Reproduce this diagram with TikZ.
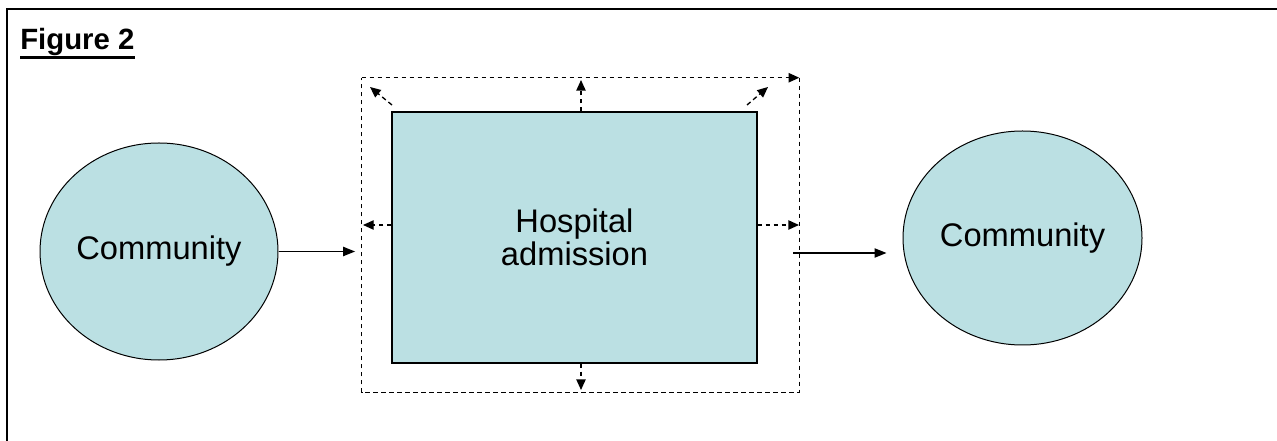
\documentclass[tikz,border=0pt]{standalone}
\usepackage{fontspec}
\setmainfont{Liberation Sans}
\usetikzlibrary{arrows.meta,shapes.geometric}
\definecolor{wardblue}{RGB}{187,224,227}
\tikzset{
  blob/.style={ellipse,draw,line width=0.75pt,fill=wardblue,inner sep=0pt,font=\fontsize{24.5}{24.75}\selectfont},
  ward/.style={rectangle,draw,line width=1pt,fill=wardblue,inner sep=0pt,align=center,font=\fontsize{24.5}{24.75}\selectfont},
  flow/.style={line width=0.9pt,-{Triangle[length=9pt,width=7pt]}},
  spill/.style={line width=1pt,dash pattern=on 3.5pt off 2.5pt,-{Triangle[length=8pt,width=7pt]}},
  rim/.style={line width=1pt,dash pattern=on 3.5pt off 2.5pt}
}
\begin{document}
\begin{tikzpicture}[x=0.75pt,y=0.75pt,yscale=-1,xscale=1]
\useasboundingbox (0,0) rectangle (1277,441);
%Frame
\draw [line width=2.2pt] (7,9) rectangle (1300,470) ;

% Text Node
\node [anchor=base west,inner sep=0pt,font=\fontsize{22}{26}\selectfont\bfseries] (fig) at (20,50) {Figure 2};
\draw [line width=2pt] ([yshift=5.5pt]fig.base west) -- ([yshift=5.5pt]fig.base east) ;

%Shape: Ellipse
\node [blob,minimum width=178.5pt,minimum height=162.75pt] (comm1) at (159,251.5) {Community};
%Shape: Ellipse
\node [blob,minimum width=179.25pt,minimum height=160.5pt] (comm2) at (1022.5,238) {Community};
%Shape: Rectangle
\node [ward,minimum width=273.75pt,minimum height=188.25pt] (hosp) at (574.5,237.5) {Hospital\\admission};
%Shape: Rectangle (dashed zone)
\node [rectangle,inner sep=0pt,minimum width=327.75pt,minimum height=235.5pt] (zone) at (580.5,235) {};
\draw [rim] (zone.north east) -- (zone.south east) -- (zone.south west) -- (zone.north west) ;
\draw [spill] (zone.north west) -- (zone.north east) ;

% arrow ends
\coordinate (outT) at (581,80);
\coordinate (outB) at (581,390);
\coordinate (outL) at (363,225);
\coordinate (outR) at (799,225);
\coordinate (inTL) at (392,105);
\coordinate (outTL) at (370,87);
\coordinate (inTR) at (747,105);
\coordinate (outTR) at (768,87);
\coordinate (exitR) at (793,253);

%Straight Lines
\draw [spill] (outT |- hosp.north) -- (outT) ;
\draw [spill] (outB |- hosp.south) -- (outB) ;
\draw [spill] (outL -| hosp.west) -- (outL) ;
\draw [spill] (outR -| hosp.east) -- (outR) ;
\draw [spill] (inTL) -- (outTL) ;
\draw [spill] (inTR) -- (outTR) ;

%Straight Lines
\draw [flow,shorten >=5pt] (comm1.east) -- (comm1.east -| zone.west) ;
\draw [flow,shorten >=12pt] (exitR) -- (exitR -| comm2.west) ;
\end{tikzpicture}
\end{document}
